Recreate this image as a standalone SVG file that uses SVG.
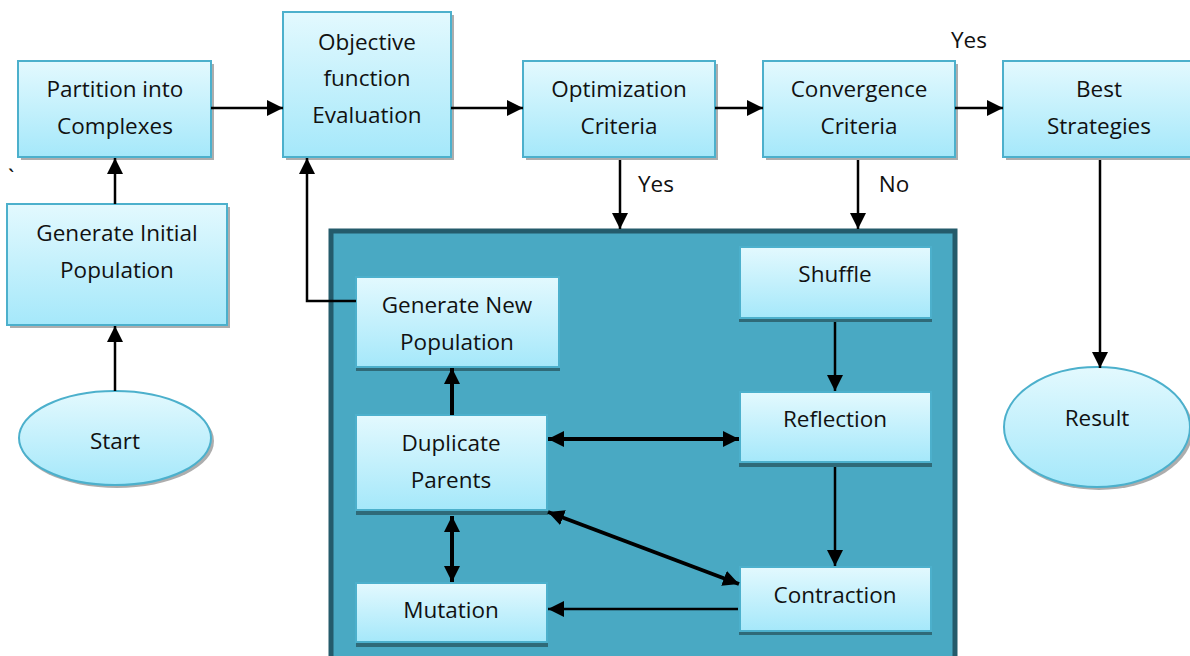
<svg xmlns="http://www.w3.org/2000/svg" width="1190" height="656" viewBox="0 0 1190 656">
<defs>
<linearGradient id="g" x1="0" y1="0" x2="0" y2="1">
<stop offset="0" stop-color="#e3f9fe"/>
<stop offset="1" stop-color="#a5e8fa"/>
</linearGradient>
<marker id="ah2" viewBox="0 0 10 10" refX="10" refY="5" markerWidth="16" markerHeight="16" markerUnits="userSpaceOnUse" orient="auto-start-reverse">
<path d="M0,0 L10,5 L0,10 z" fill="#000"/>
</marker>
</defs>
<style>
.b{fill:url(#g);stroke:#4cb0cc;stroke-width:2}
.sh{fill:#8a8a8a;opacity:0.7}
.ish{fill:#2f6a78}
.t{font-family:"Open Sans","Noto Sans",sans-serif;font-size:22.5px;fill:#111;text-anchor:middle}
.c{stroke:#000;stroke-width:2.5;fill:none}
.c3{stroke:#000;stroke-width:4;fill:none}
</style>
<rect width="1190" height="656" fill="#fff"/>
<text x="8" y="185" class="t" style="text-anchor:start">`</text>

<g id="container">
<rect x="331" y="231" width="624" height="430" fill="#49a9c3" stroke="#245b6b" stroke-width="5"/>
</g>

<g id="partition">
<rect x="21" y="64" width="193" height="96" class="sh"/>
<rect x="18" y="61" width="193" height="96" class="b"/>
<text x="115" y="97" class="t">Partition into</text>
<text x="115" y="134" class="t">Complexes</text>
</g>
<g id="objective">
<rect x="286" y="15" width="168" height="145" class="sh"/>
<rect x="283" y="12" width="168" height="145" class="b"/>
<text x="367" y="50" class="t">Objective</text>
<text x="367" y="86" class="t">function</text>
<text x="367" y="123" class="t">Evaluation</text>
</g>
<g id="optimization">
<rect x="526" y="64" width="192" height="96" class="sh"/>
<rect x="523" y="61" width="192" height="96" class="b"/>
<text x="619" y="97" class="t">Optimization</text>
<text x="619" y="134" class="t">Criteria</text>
</g>
<g id="convergence">
<rect x="766" y="64" width="192" height="96" class="sh"/>
<rect x="763" y="61" width="192" height="96" class="b"/>
<text x="859" y="97" class="t">Convergence</text>
<text x="859" y="134" class="t">Criteria</text>
</g>
<g id="best">
<rect x="1006" y="64" width="192" height="96" class="sh"/>
<rect x="1003" y="61" width="192" height="96" class="b"/>
<text x="1099" y="97" class="t">Best</text>
<text x="1099" y="134" class="t">Strategies</text>
</g>
<g id="geninit">
<rect x="10" y="207" width="220" height="121" class="sh"/>
<rect x="7" y="204" width="220" height="121" class="b"/>
<text x="117" y="241" class="t">Generate Initial</text>
<text x="117" y="278" class="t">Population</text>
</g>
<g id="start">
<ellipse cx="117" cy="441" rx="97" ry="47" class="sh"/>
<ellipse cx="115" cy="438" rx="96" ry="47" class="b"/>
<text x="115" y="449" class="t">Start</text>
</g>
<g id="result">
<ellipse cx="1099" cy="430" rx="94" ry="60" class="sh"/>
<ellipse cx="1097" cy="427" rx="93" ry="60" class="b"/>
<text x="1097" y="426" class="t">Result</text>
</g>
<g id="gennew">
<rect x="356" y="366" width="204" height="5" class="ish"/>
<rect x="356" y="277" width="203" height="90" class="b"/>
<text x="457" y="313" class="t">Generate New</text>
<text x="457" y="350" class="t">Population</text>
</g>
<g id="duplicate">
<rect x="356" y="510" width="192" height="5" class="ish"/>
<rect x="356" y="415" width="191" height="95" class="b"/>
<text x="451" y="451" class="t">Duplicate</text>
<text x="451" y="488" class="t">Parents</text>
</g>
<g id="mutation">
<rect x="356" y="642" width="192" height="5" class="ish"/>
<rect x="356" y="583" width="191" height="59" class="b"/>
<text x="451" y="618" class="t">Mutation</text>
</g>
<g id="shuffle">
<rect x="739" y="318" width="193" height="4" class="ish"/>
<rect x="740" y="247" width="191" height="71" class="b"/>
<text x="835" y="282" class="t">Shuffle</text>
</g>
<g id="reflection">
<rect x="739" y="462" width="193" height="5" class="ish"/>
<rect x="740" y="392" width="191" height="70" class="b"/>
<text x="835" y="427" class="t">Reflection</text>
</g>
<g id="contraction">
<rect x="739" y="631" width="193" height="4" class="ish"/>
<rect x="740" y="567" width="191" height="64" class="b"/>
<text x="835" y="603" class="t">Contraction</text>
</g>

<g id="connectors">
<line x1="211" y1="108" x2="283" y2="108" class="c" marker-end="url(#ah2)"/>
<line x1="451" y1="108" x2="523" y2="108" class="c" marker-end="url(#ah2)"/>
<line x1="715" y1="108" x2="763" y2="108" class="c" marker-end="url(#ah2)"/>
<line x1="955" y1="108" x2="1003" y2="108" class="c" marker-end="url(#ah2)"/>
<line x1="620" y1="160" x2="620" y2="229" class="c" marker-end="url(#ah2)"/>
<line x1="858" y1="160" x2="858" y2="229" class="c" marker-end="url(#ah2)"/>
<line x1="1100" y1="160" x2="1100" y2="368" class="c" marker-end="url(#ah2)"/>
<line x1="115" y1="391" x2="115" y2="326" class="c" marker-end="url(#ah2)"/>
<line x1="115" y1="204" x2="115" y2="158" class="c" marker-end="url(#ah2)"/>
<polyline points="356,301 307,301 307,158" class="c" marker-end="url(#ah2)"/>
<line x1="452" y1="415" x2="452" y2="368" class="c3" marker-end="url(#ah2)"/>
<line x1="452" y1="516" x2="452" y2="582" class="c3" marker-start="url(#ah2)" marker-end="url(#ah2)"/>
<line x1="835" y1="322" x2="835" y2="391" class="c" marker-end="url(#ah2)"/>
<line x1="835" y1="467" x2="835" y2="566" class="c" marker-end="url(#ah2)"/>
<line x1="548" y1="439" x2="739" y2="439" class="c3" marker-start="url(#ah2)" marker-end="url(#ah2)"/>
<line x1="548" y1="512" x2="739" y2="584" class="c3" marker-start="url(#ah2)" marker-end="url(#ah2)"/>
<line x1="738" y1="609" x2="548" y2="609" class="c" marker-end="url(#ah2)"/>
</g>
<g id="labels">
<text x="969" y="48" class="t">Yes</text>
<text x="656" y="192" class="t">Yes</text>
<text x="894" y="192" class="t">No</text>
</g>
</svg>
